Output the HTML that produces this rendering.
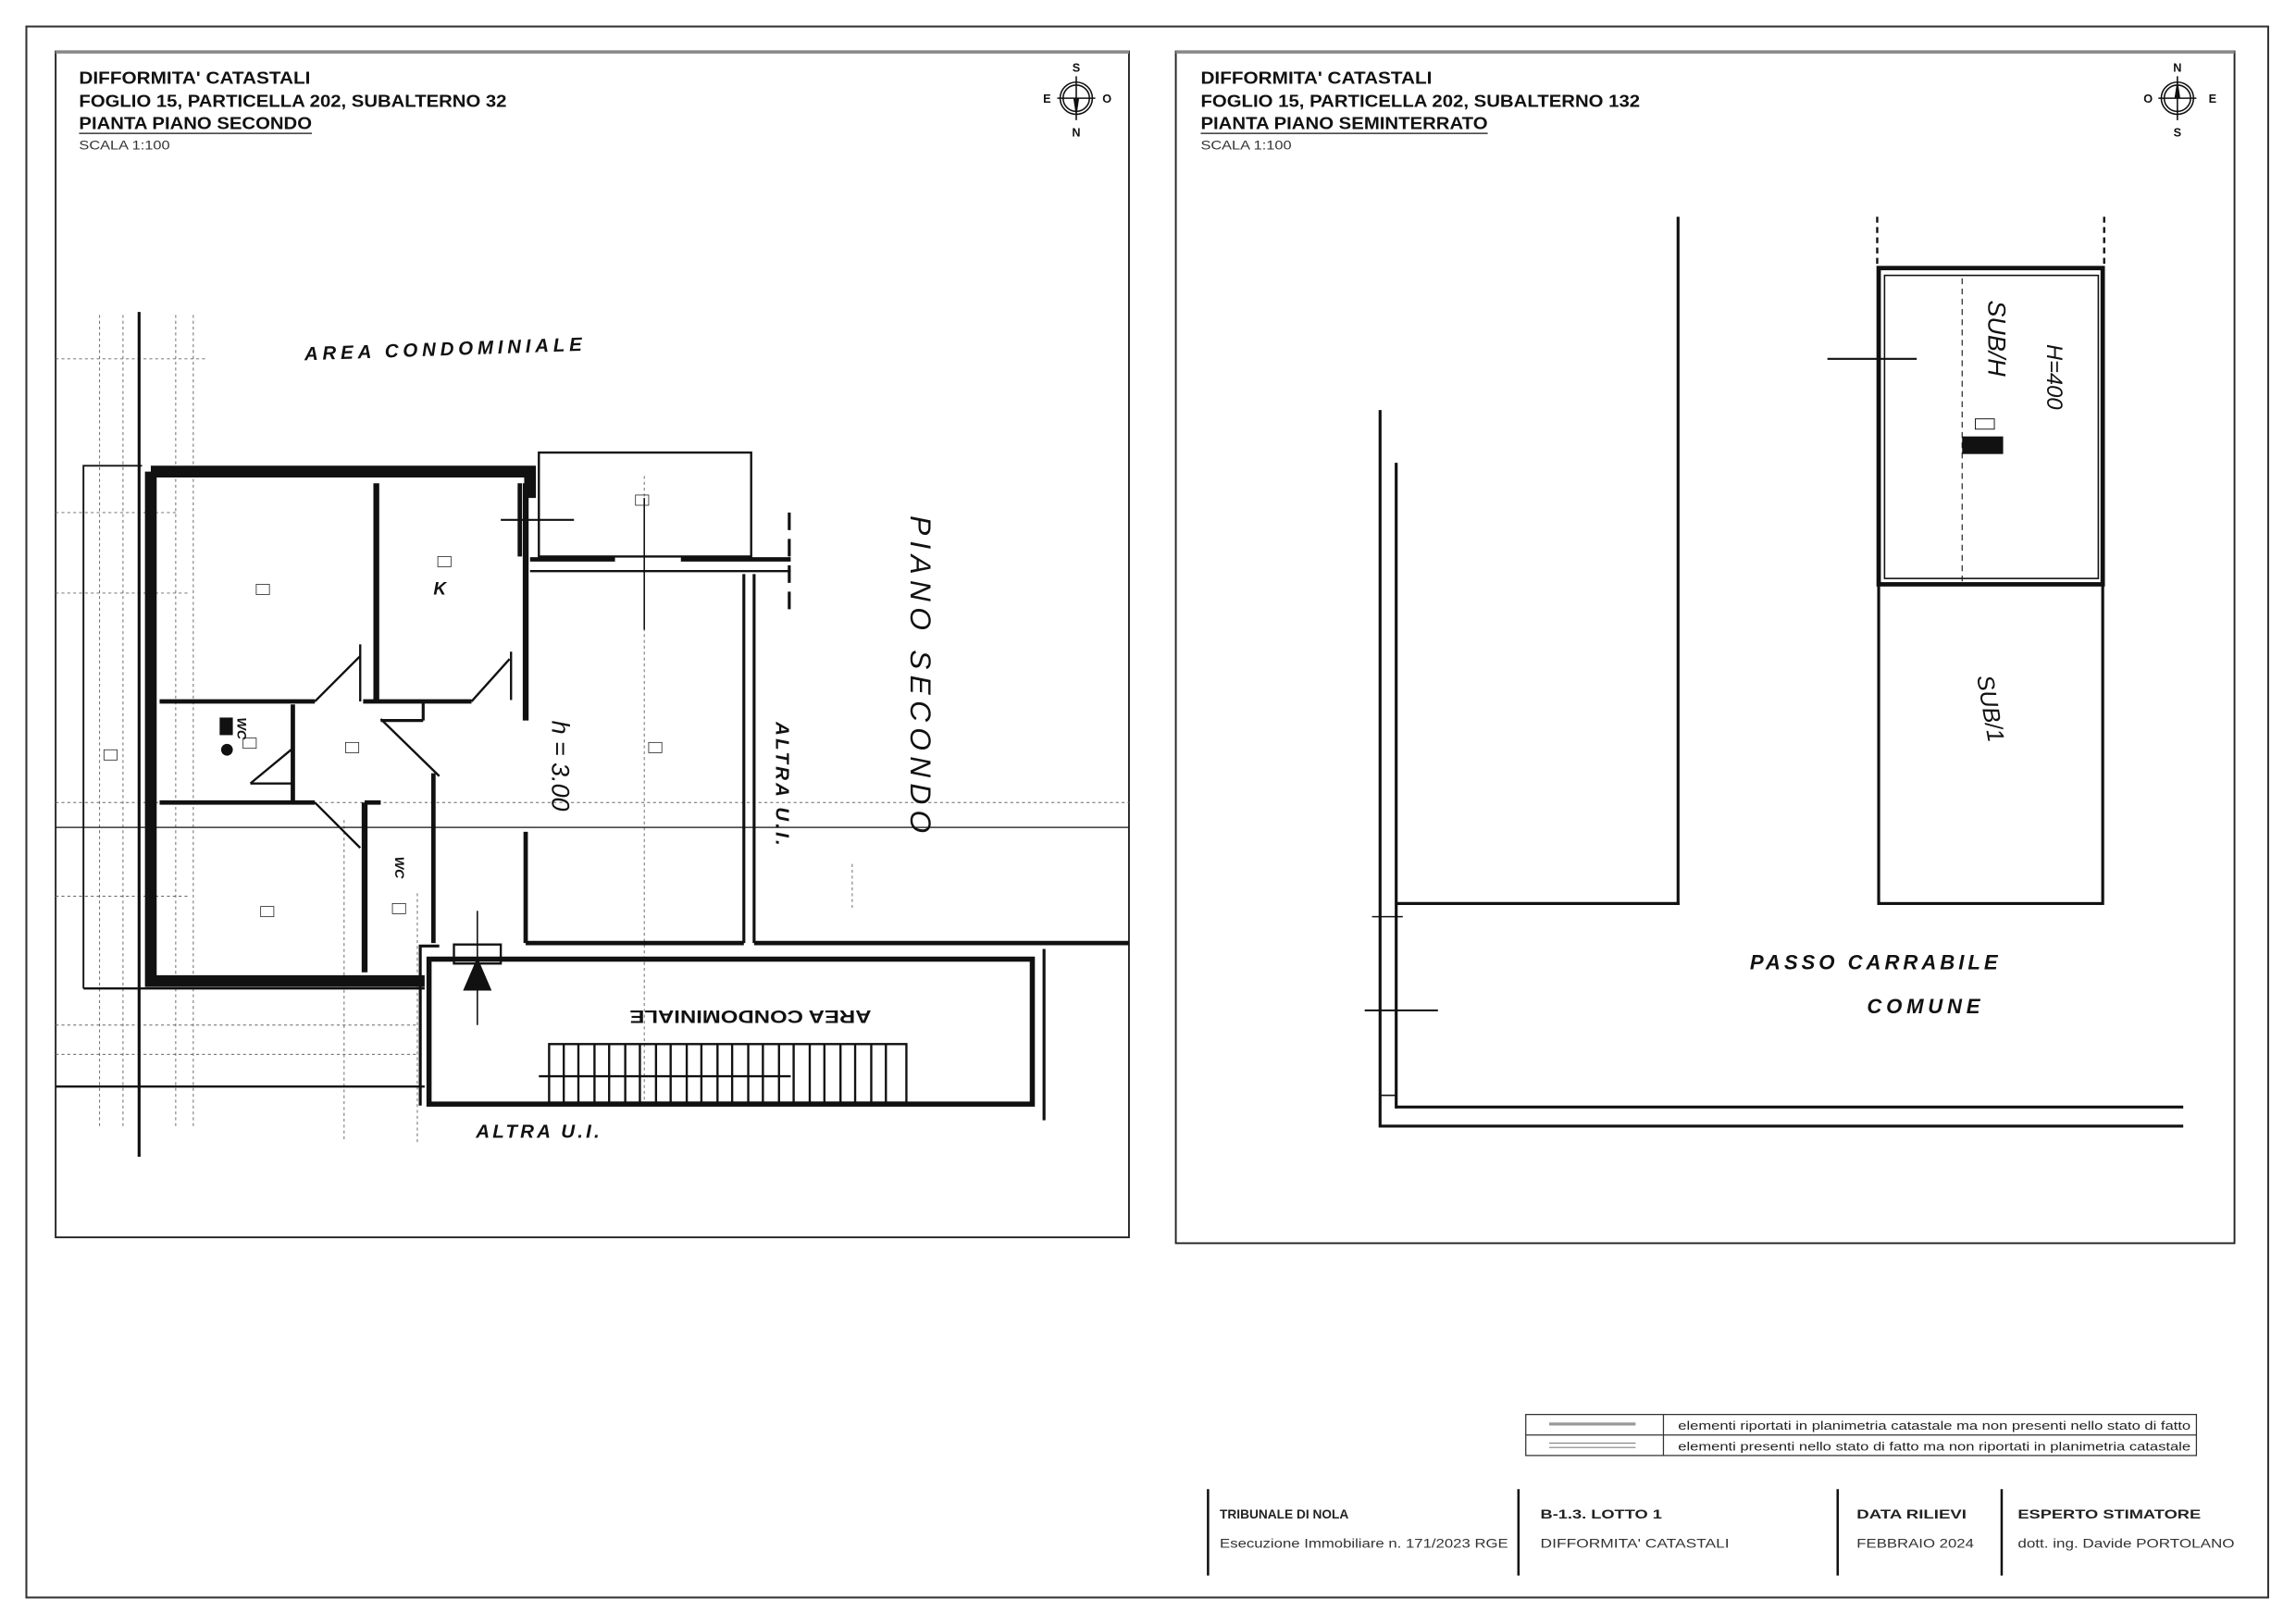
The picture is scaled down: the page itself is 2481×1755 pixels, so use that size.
<!DOCTYPE html>
<html><head><meta charset="utf-8"><style>
html,body{margin:0;padding:0;background:#fff;}
svg{display:block;}
text{font-family:"Liberation Sans",sans-serif;}
.h{font-family:"Liberation Sans",sans-serif;font-style:italic;font-weight:bold;}
</style></head><body>
<svg width="2481" height="1755" viewBox="0 0 1568 1109" xmlns="http://www.w3.org/2000/svg">
<rect width="1568" height="1109" fill="#fff"/>
<rect x="18" y="18" width="1531" height="1073" fill="none" stroke="#333" stroke-width="1.3"/>
<rect x="38" y="35" width="733" height="810" fill="none" stroke="#222" stroke-width="1.2"/>
<line x1="38" y1="35.5" x2="771" y2="35.5" stroke="#888" stroke-width="2"/>
<rect x="803" y="35" width="723" height="814" fill="none" stroke="#222" stroke-width="1.2"/>
<line x1="803" y1="35.5" x2="1526" y2="35.5" stroke="#888" stroke-width="2"/>

<g font-weight="bold" font-size="11.5" fill="#111">
<text x="54" y="57" textLength="158" lengthAdjust="spacingAndGlyphs">DIFFORMITA' CATASTALI</text>
<text x="54" y="73" textLength="292" lengthAdjust="spacingAndGlyphs">FOGLIO 15, PARTICELLA 202, SUBALTERNO 32</text>
<text x="54" y="88" textLength="159" lengthAdjust="spacingAndGlyphs">PIANTA PIANO SECONDO</text>
<text x="820" y="57" textLength="158" lengthAdjust="spacingAndGlyphs">DIFFORMITA' CATASTALI</text>
<text x="820" y="73" textLength="300" lengthAdjust="spacingAndGlyphs">FOGLIO 15, PARTICELLA 202, SUBALTERNO 132</text>
<text x="820" y="88" textLength="196" lengthAdjust="spacingAndGlyphs">PIANTA PIANO SEMINTERRATO</text>
</g>
<line x1="54" y1="91" x2="213" y2="91" stroke="#111" stroke-width="0.8"/>
<line x1="820" y1="91" x2="1016" y2="91" stroke="#111" stroke-width="0.8"/>
<text x="54" y="102" font-size="8.5" fill="#333" textLength="62" lengthAdjust="spacingAndGlyphs">SCALA 1:100</text>
<text x="820" y="102" font-size="8.5" fill="#333" textLength="62" lengthAdjust="spacingAndGlyphs">SCALA 1:100</text>

<g fill="none" stroke="#111" stroke-width="1">
<circle cx="735" cy="67" r="11"/><circle cx="735" cy="67" r="9"/>
<line x1="722" y1="67" x2="748" y2="67"/><line x1="735" y1="52" x2="735" y2="82"/>
<circle cx="1487" cy="67" r="11"/><circle cx="1487" cy="67" r="9"/>
<line x1="1474" y1="67" x2="1500" y2="67"/><line x1="1487" y1="52" x2="1487" y2="82"/>
</g>
<path d="M733 67 L735 80 L737 67Z" fill="#111"/>
<path d="M1485 67 L1487 54 L1489 67Z" fill="#111"/>
<g font-size="8" font-weight="bold" fill="#111" text-anchor="middle">
<text x="735" y="49">S</text><text x="735" y="93">N</text><text x="715" y="70">E</text><text x="756" y="70">O</text>
<text x="1487" y="49">N</text><text x="1487" y="93">S</text><text x="1467" y="70">O</text><text x="1511" y="70">E</text>
</g>

<g stroke="#666" stroke-width="0.6" stroke-dasharray="2,2" fill="none">
<line x1="68" y1="215" x2="68" y2="770"/><line x1="84" y1="215" x2="84" y2="770"/>
<line x1="120" y1="215" x2="120" y2="770"/><line x1="132" y1="215" x2="132" y2="770"/>
<line x1="285" y1="610" x2="285" y2="780"/><line x1="235" y1="560" x2="235" y2="780"/>
<line x1="440" y1="325" x2="440" y2="755"/><line x1="38" y1="548" x2="771" y2="548"/>
<line x1="38" y1="612" x2="130" y2="612"/>
<line x1="38" y1="405" x2="130" y2="405"/><line x1="38" y1="245" x2="140" y2="245"/>
<line x1="38" y1="350" x2="120" y2="350"/><line x1="38" y1="700" x2="290" y2="700"/>
<line x1="38" y1="720" x2="290" y2="720"/><line x1="582" y1="590" x2="582" y2="620"/>
</g>
<g stroke="#111" fill="none">
<line x1="95" y1="213" x2="95" y2="790" stroke-width="2"/>
<line x1="38" y1="742" x2="290" y2="742" stroke-width="1.5"/>
<line x1="38" y1="565" x2="771" y2="565" stroke-width="0.8"/>
<polyline points="57,675 57,318 97,318" stroke-width="1.2"/>
<line x1="57" y1="675" x2="290" y2="675" stroke-width="1.5"/>
<path d="M103 322 H362 V340 M103 322 V670 H290" stroke-width="8"/>
<line x1="355" y1="330" x2="355" y2="380" stroke-width="3"/>
<line x1="109" y1="479" x2="215" y2="479" stroke-width="3"/>
<line x1="109" y1="548" x2="215" y2="548" stroke-width="3"/>
<line x1="257" y1="330" x2="257" y2="479" stroke-width="4"/>
<line x1="248" y1="479" x2="322" y2="479" stroke-width="3"/>
<line x1="359" y1="330" x2="359" y2="492" stroke-width="4"/>
<line x1="359" y1="568" x2="359" y2="644" stroke-width="3"/>
<line x1="200" y1="481" x2="200" y2="548" stroke-width="3"/>
<line x1="249" y1="548" x2="249" y2="664" stroke-width="4"/>
<line x1="249" y1="548" x2="260" y2="548" stroke-width="3"/>
<line x1="296" y1="528" x2="296" y2="644" stroke-width="3"/>
<line x1="289" y1="480" x2="289" y2="492" stroke-width="2"/>
<line x1="260" y1="492" x2="289" y2="492" stroke-width="2"/>
<line x1="215" y1="479" x2="246" y2="448" stroke-width="1.5"/>
<line x1="171" y1="535" x2="200" y2="511" stroke-width="1.5"/>
<line x1="171" y1="535" x2="200" y2="535" stroke-width="1.5"/>
<line x1="215" y1="548" x2="246" y2="579" stroke-width="1.5"/>
<line x1="260" y1="491" x2="300" y2="530" stroke-width="1.5"/>
<line x1="322" y1="479" x2="348" y2="450" stroke-width="1.5"/>
<line x1="349" y1="445" x2="349" y2="478" stroke-width="1.5"/>
<line x1="246" y1="440" x2="246" y2="479" stroke-width="1.5"/>
<rect x="368" y="309" width="145" height="71" stroke-width="1.5"/>
<line x1="362" y1="382" x2="420" y2="382" stroke-width="3"/>
<line x1="465" y1="382" x2="540" y2="382" stroke-width="3"/>
<line x1="362" y1="390" x2="540" y2="390" stroke-width="1.5"/>
<line x1="440" y1="340" x2="440" y2="430" stroke-width="1"/>
<line x1="342" y1="355" x2="392" y2="355" stroke-width="1.3"/>
<line x1="539" y1="350" x2="539" y2="420" stroke-width="2" stroke-dasharray="12,6"/>
<line x1="508" y1="392" x2="508" y2="644" stroke-width="2"/>
<line x1="515" y1="392" x2="515" y2="644" stroke-width="2"/>
<line x1="359" y1="644" x2="508" y2="644" stroke-width="3"/>
<line x1="515" y1="644" x2="771" y2="644" stroke-width="3"/>
<rect x="293" y="655" width="412" height="99" stroke-width="3.5"/>
<line x1="286" y1="646" x2="300" y2="646" stroke-width="2"/>
<line x1="287" y1="646" x2="287" y2="755" stroke-width="2"/>
<line x1="713" y1="648" x2="713" y2="765" stroke-width="2"/>
<rect x="310" y="645" width="32" height="13" stroke-width="1.5"/>
<line x1="326" y1="622" x2="326" y2="700" stroke-width="1"/>
<path d="M317 676 L326 655 L335 676Z" fill="#111"/>
<rect x="375" y="713" width="244" height="40" stroke-width="1.5"/>
<line x1="368" y1="735" x2="540" y2="735" stroke-width="1.5"/>
</g>
<g stroke="#111" stroke-width="1.5">
<line x1="385" y1="713" x2="385" y2="753"/><line x1="395" y1="713" x2="395" y2="753"/><line x1="406" y1="713" x2="406" y2="753"/><line x1="416" y1="713" x2="416" y2="753"/><line x1="427" y1="713" x2="427" y2="753"/><line x1="437" y1="713" x2="437" y2="753"/><line x1="448" y1="713" x2="448" y2="753"/><line x1="458" y1="713" x2="458" y2="753"/><line x1="469" y1="713" x2="469" y2="753"/><line x1="479" y1="713" x2="479" y2="753"/><line x1="490" y1="713" x2="490" y2="753"/><line x1="500" y1="713" x2="500" y2="753"/><line x1="511" y1="713" x2="511" y2="753"/><line x1="521" y1="713" x2="521" y2="753"/><line x1="532" y1="713" x2="532" y2="753"/><line x1="542" y1="713" x2="542" y2="753"/><line x1="553" y1="713" x2="553" y2="753"/><line x1="563" y1="713" x2="563" y2="753"/><line x1="574" y1="713" x2="574" y2="753"/><line x1="584" y1="713" x2="584" y2="753"/><line x1="595" y1="713" x2="595" y2="753"/><line x1="605" y1="713" x2="605" y2="753"/>
</g>
<rect x="150" y="490" width="9" height="12" fill="#111"/>
<circle cx="155" cy="512" r="4" fill="#111"/>
<g fill="none" stroke="#222" stroke-width="0.5">
<rect x="175" y="399" width="9" height="7"/>
<rect x="299" y="380" width="9" height="7"/>
<rect x="434" y="338" width="9" height="7"/>
<rect x="443" y="507" width="9" height="7"/>
<rect x="236" y="507" width="9" height="7"/>
<rect x="166" y="504" width="9" height="7"/>
<rect x="71" y="512" width="9" height="7"/>
<rect x="178" y="619" width="9" height="7"/>
<rect x="268" y="617" width="9" height="7"/>
</g>
<g class="h" fill="#111">
<text x="208" y="246" font-size="13" transform="rotate(-2 208 246)" letter-spacing="3">AREA  CONDOMINIALE</text>
<text x="622" y="352" font-size="20" transform="rotate(90 622 352)" letter-spacing="4" font-weight="normal">PIANO   SECONDO</text>
<text x="377" y="492" font-size="17" transform="rotate(90 377 492)" font-weight="normal">h = 3.00</text>
<text x="530" y="493" font-size="13" transform="rotate(90 530 493)" letter-spacing="2">ALTRA  U.I.</text>
<text x="325" y="777" font-size="13" letter-spacing="2">ALTRA  U.I.</text>
<text x="429" y="682" font-size="12" transform="rotate(180 512 686)" font-weight="bold" font-style="normal" textLength="165" lengthAdjust="spacingAndGlyphs">AREA CONDOMINIALE</text>
<text x="162" y="490" font-size="9" transform="rotate(90 162 490)">WC</text>
<text x="270" y="585" font-size="9" transform="rotate(90 270 585)">WC</text>
<text x="296" y="406" font-size="12">K</text>
</g>

<g stroke="#111" fill="none">
<line x1="942.5" y1="280" x2="942.5" y2="770" stroke-width="2"/>
<line x1="953.5" y1="316" x2="953.5" y2="757" stroke-width="2"/>
<line x1="953" y1="756" x2="1491" y2="756" stroke-width="2"/>
<line x1="942" y1="769" x2="1491" y2="769" stroke-width="2"/>
<line x1="953" y1="617" x2="1147" y2="617" stroke-width="2"/>
<line x1="1146" y1="148" x2="1146" y2="618" stroke-width="2"/>
<rect x="1283" y="183" width="153" height="216" stroke-width="3"/>
<rect x="1287" y="188" width="146" height="207" stroke-width="1"/>
<rect x="1283" y="399" width="153" height="218" stroke-width="2"/>
<line x1="1282" y1="148" x2="1282" y2="183" stroke-width="1.5" stroke-dasharray="4,3"/>
<line x1="1437" y1="148" x2="1437" y2="183" stroke-width="1.5" stroke-dasharray="4,3"/>
<line x1="1340" y1="190" x2="1340" y2="398" stroke-width="0.7" stroke-dasharray="4,3"/>
<line x1="1248" y1="245" x2="1309" y2="245" stroke-width="1.3"/>
<line x1="932" y1="690" x2="982" y2="690" stroke-width="1.3"/>
<line x1="937" y1="626" x2="958" y2="626" stroke-width="1"/>
<line x1="942" y1="748" x2="953" y2="748" stroke-width="1"/>
<rect x="1349" y="286" width="13" height="7" stroke-width="0.6"/>
</g>
<rect x="1340" y="298" width="28" height="12" fill="#111"/>
<g class="h" fill="#111">
<text x="1358" y="205" font-size="17" transform="rotate(90 1358 205)" font-weight="normal">SUB/H</text>
<text x="1398" y="235" font-size="15" transform="rotate(90 1398 235)" font-weight="normal">H=400</text>
<text x="1350" y="462" font-size="16" transform="rotate(80 1350 462)" font-weight="normal">SUB/1</text>
<text x="1195" y="662" font-size="14" letter-spacing="2.5">PASSO  CARRABILE</text>
<text x="1275" y="692" font-size="14" letter-spacing="3">COMUNE</text>
</g>

<g stroke="#333" fill="none" stroke-width="0.8">
<rect x="1042" y="966" width="458" height="28"/>
<line x1="1042" y1="980" x2="1500" y2="980"/>
<line x1="1136" y1="966" x2="1136" y2="994"/>
</g>
<line x1="1058" y1="972.5" x2="1117" y2="972.5" stroke="#999" stroke-width="2"/>
<line x1="1058" y1="985.5" x2="1117" y2="985.5" stroke="#666" stroke-width="0.6"/>
<line x1="1058" y1="988.5" x2="1117" y2="988.5" stroke="#666" stroke-width="0.6"/>
<g font-size="8.3" fill="#222">
<text x="1146" y="976.5" textLength="350" lengthAdjust="spacingAndGlyphs">elementi riportati in planimetria catastale ma non presenti nello stato di fatto</text>
<text x="1146" y="990.5" textLength="350" lengthAdjust="spacingAndGlyphs">elementi presenti nello stato di fatto ma non riportati in planimetria catastale</text>
</g>

<g stroke="#111" stroke-width="1.6">
<line x1="825" y1="1017" x2="825" y2="1076"/><line x1="1037" y1="1017" x2="1037" y2="1076"/>
<line x1="1255" y1="1017" x2="1255" y2="1076"/><line x1="1367" y1="1017" x2="1367" y2="1076"/>
</g>
<g font-size="9" font-weight="bold" fill="#222">
<text x="833" y="1037" textLength="88" lengthAdjust="spacingAndGlyphs">TRIBUNALE DI NOLA</text>
<text x="1052" y="1037" textLength="83" lengthAdjust="spacingAndGlyphs">B-1.3. LOTTO 1</text>
<text x="1268" y="1037" textLength="75" lengthAdjust="spacingAndGlyphs">DATA RILIEVI</text>
<text x="1378" y="1037" textLength="125" lengthAdjust="spacingAndGlyphs">ESPERTO STIMATORE</text>
</g>
<g font-size="8.5" fill="#333">
<text x="833" y="1057" textLength="197" lengthAdjust="spacingAndGlyphs">Esecuzione Immobiliare n. 171/2023 RGE</text>
<text x="1052" y="1057" textLength="129" lengthAdjust="spacingAndGlyphs">DIFFORMITA' CATASTALI</text>
<text x="1268" y="1057" textLength="80" lengthAdjust="spacingAndGlyphs">FEBBRAIO 2024</text>
<text x="1378" y="1057" textLength="148" lengthAdjust="spacingAndGlyphs">dott. ing. Davide PORTOLANO</text>
</g>
</svg>
</body></html>
